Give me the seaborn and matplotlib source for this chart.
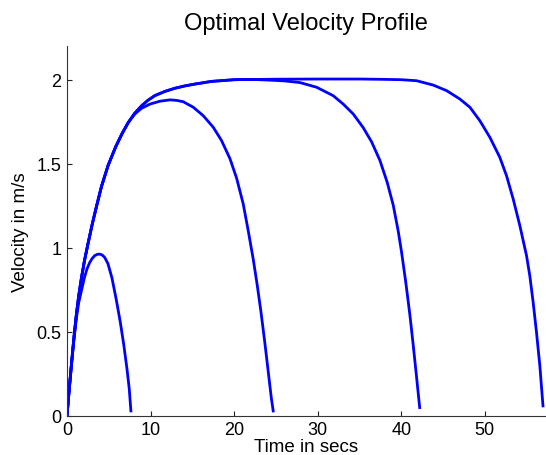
import numpy as np
import pandas as pd
import seaborn as sns
import matplotlib
matplotlib.use('Agg')
import matplotlib.pyplot as plt

# velocity profiles (time in s, velocity in m/s)
t1 = [0, 0.22, 0.45, 0.66, 0.86, 1.14, 1.41, 1.73, 2.1, 2.39, 2.7, 3.0, 3.3, 3.6, 3.9, 4.2, 4.5,
      4.9, 5.38, 5.9, 6.38, 6.8, 7.18, 7.45, 7.66]
v1 = [0, 0.13, 0.255, 0.365, 0.465, 0.585, 0.675, 0.745, 0.825, 0.873, 0.91, 0.935, 0.952, 0.96, 0.962,
      0.957, 0.943, 0.905, 0.82, 0.69, 0.556, 0.42, 0.278, 0.16, 0.02]

t2 = [0, 0.22, 0.45, 0.66, 0.86, 1.14, 1.41, 1.73, 2.1, 2.54, 3.02, 3.55, 4.13, 4.92, 5.82, 6.6, 7.34,
      8.1, 8.93, 9.93, 11.12, 12.32, 13.1, 13.91, 15.11, 16.3, 17.5, 18.5, 19.5, 20.29, 21.09, 21.69,
      22.29, 22.77, 23.21, 23.68, 24.08, 24.45, 24.7]
v2 = [0, 0.13, 0.26, 0.375, 0.48, 0.61, 0.715, 0.82, 0.925, 1.03, 1.14, 1.25, 1.365, 1.49, 1.6, 1.68, 1.746,
      1.795, 1.83, 1.855, 1.872, 1.88, 1.877, 1.869, 1.836, 1.786, 1.717, 1.637, 1.53, 1.415, 1.26, 1.1,
      0.93, 0.775, 0.618, 0.432, 0.262, 0.105, 0.02]

t3 = [0, 0.22, 0.45, 0.66, 0.86, 1.14, 1.41, 1.73, 2.1, 2.54, 3.02, 3.55, 4.13, 4.92, 5.82, 6.6, 7.34,
      8.1, 8.93, 9.7, 10.5, 11.7, 12.9, 14.1, 15.3, 17.3, 20.0, 22.0, 24.0, 26.0, 27.87, 29.87, 31.85,
      33.05, 34.25, 35.44, 36.45, 37.44, 38.31, 39.03, 39.63, 40.03, 40.55, 41.03, 41.43, 41.83, 42.22]
v3 = [0, 0.13, 0.26, 0.375, 0.48, 0.61, 0.715, 0.82, 0.925, 1.03, 1.14, 1.25, 1.365, 1.49, 1.6, 1.68, 1.746,
      1.8, 1.845, 1.878, 1.905, 1.93, 1.949, 1.963, 1.974, 1.99, 2.0, 2.002, 1.998, 1.993, 1.983, 1.955, 1.905,
      1.855, 1.796, 1.715, 1.63, 1.52, 1.39, 1.255, 1.1, 0.975, 0.79, 0.6, 0.42, 0.23, 0.04]

t4 = [0, 0.22, 0.45, 0.66, 0.86, 1.14, 1.41, 1.73, 2.1, 2.54, 3.02, 3.55, 4.13, 4.92, 5.82, 6.6, 7.34,
      8.1, 8.93, 9.7, 10.5, 11.7, 12.9, 14.1, 15.3, 17.3, 20.0, 25.0, 30.0, 35.0, 38.0, 40.0, 41.83, 43.82,
      45.42, 47.01, 48.21, 49.4, 50.6, 51.79, 52.59, 53.39, 54.19, 54.99, 55.38, 55.78, 56.18, 56.58, 56.97]
v4 = [0, 0.13, 0.26, 0.375, 0.48, 0.61, 0.715, 0.82, 0.925, 1.03, 1.14, 1.25, 1.365, 1.49, 1.6, 1.68, 1.746,
      1.8, 1.845, 1.878, 1.905, 1.93, 1.949, 1.963, 1.974, 1.99, 2.0, 2.003, 2.004, 2.004, 2.002, 2.0, 1.994,
      1.968, 1.935, 1.885, 1.836, 1.756, 1.657, 1.538, 1.429, 1.29, 1.131, 0.952, 0.833, 0.675, 0.496,
      0.298, 0.05]

xticks = [0, 10, 20, 30, 40, 50]
xtick_labels = ['0', '10', '20', '30', '40', '50']
yticks = [0, 0.5, 1, 1.5, 2]
ytick_labels = ['0', '0.5', '1', '1.5', '2']

runs = [(t1, v1), (t2, v2), (t3, v3), (t4, v4)]
df = pd.concat([pd.DataFrame({'t': t, 'v': v, 'run': i}) for i, (t, v) in enumerate(runs)],
               ignore_index=True)

sns.set_style('ticks')
plt.rcParams['font.family'] = ['Liberation Sans', 'DejaVu Sans']
plt.rcParams['text.color'] = 'black'
plt.rcParams['axes.labelcolor'] = 'black'

fig = plt.figure(figsize=(5.46, 4.56), dpi=100)
ax = fig.add_axes([0.1227, 0.0862, 0.8755, 0.8105])

sns.lineplot(data=df, x='t', y='v', units='run', estimator=None, sort=False,
             color='#0000ff', lw=2, ax=ax, legend=False, solid_joinstyle='round',
             solid_capstyle='butt')

ax.set_xlim(0, 57.2)
ax.set_ylim(0, 2.2)
ax.set_xticks(xticks)
ax.set_xticklabels(xtick_labels)
ax.set_yticks(yticks)
ax.set_yticklabels(ytick_labels)
ax.tick_params(direction='in', length=3.5, width=0.8, labelsize=13, pad=4, colors='#222222')
ax.tick_params(labelcolor='black')

for s in ['top', 'right']:
    ax.spines[s].set_visible(False)
for s in ['left', 'bottom']:
    ax.spines[s].set_color('#333333')
    ax.spines[s].set_linewidth(0.8)

ax.set_title('Optimal Velocity Profile', fontsize=17, pad=12.5)
ax.set_xlabel('Time in secs', fontsize=13.5, labelpad=0)
ax.set_ylabel('Velocity in m/s', fontsize=13.5, labelpad=5)

fig.savefig('out.png', dpi=100)
